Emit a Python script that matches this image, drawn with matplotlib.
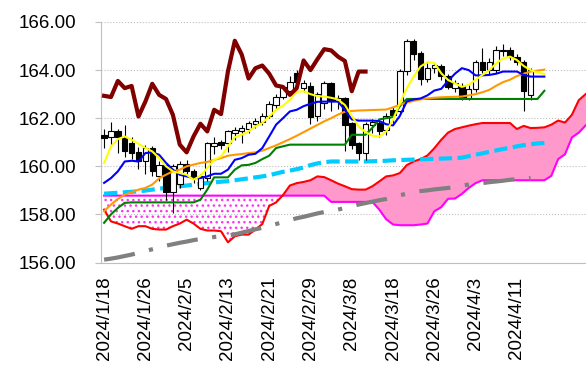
import numpy as np
import matplotlib
matplotlib.use('Agg')
import matplotlib.pyplot as plt

plt.rcParams['font.family'] = ['Liberation Sans', 'DejaVu Sans']

# Tick labels (one every 6 business days, starting at the first candle)
TICK_LABELS = ['2024/1/18', '2024/1/26', '2024/2/5', '2024/2/13', '2024/2/21', '2024/2/29',
               '2024/3/8', '2024/3/18', '2024/3/26', '2024/4/3', '2024/4/11']

# Candles: open / high / low / close
OPEN = [161.30, 161.20, 161.45, 161.20, 160.95, 160.60, 160.20, 160.75, 159.60, 160.05,
        158.95, 159.25, 160.10, 159.80, 159.10, 159.50, 160.85, 161.00, 160.95, 161.40,
        161.45, 161.55, 161.75, 161.85, 162.10, 162.55, 162.90, 163.15, 163.90, 163.25,
        163.35, 162.10, 162.65, 163.45, 162.70, 162.85, 161.80, 160.95, 160.55, 161.70,
        161.80, 161.50, 162.35, 162.30, 163.95, 165.20, 164.70, 163.65, 164.10, 164.15,
        163.75, 163.25, 163.35, 162.85, 163.20, 164.35, 164.00, 164.00, 164.80, 164.85,
        164.55, 164.35, 162.95]
HIGH = [161.55, 161.85, 161.55, 161.70, 161.20, 160.80, 160.90, 160.85, 160.20, 160.10,
        160.10, 160.20, 160.25, 159.90, 159.70, 161.00, 161.20, 161.10, 161.50, 161.65,
        161.70, 161.90, 162.00, 162.20, 162.70, 163.00, 163.40, 163.75, 164.00, 163.60,
        163.50, 163.10, 163.55, 163.50, 162.95, 162.90, 161.85, 161.00, 161.85, 161.95,
        161.90, 162.20, 162.45, 164.05, 165.30, 165.30, 164.80, 164.30, 164.35, 164.25,
        163.85, 163.60, 163.45, 163.40, 164.40, 164.90, 164.50, 165.00, 165.10, 164.95,
        164.65, 164.40, 164.10]
LOW = [160.75, 160.85, 160.55, 160.40, 160.30, 159.90, 159.70, 159.60, 159.40, 158.60,
       158.05, 159.10, 159.60, 159.30, 159.00, 159.40, 160.50, 160.70, 160.60, 161.10,
       160.95, 161.40, 161.60, 161.70, 162.00, 162.40, 162.80, 163.00, 163.40, 163.10,
       161.75, 161.90, 162.40, 162.30, 162.40, 160.65, 160.70, 160.25, 160.25, 161.40,
       161.20, 161.30, 161.80, 162.20, 163.80, 164.40, 163.40, 163.50, 163.90, 163.60,
       163.20, 163.10, 162.75, 162.75, 163.10, 163.90, 163.85, 163.90, 164.60, 164.40,
       164.20, 162.30, 162.75]
CLOSE = [161.17, 161.45, 161.20, 160.65, 160.55, 160.20, 160.75, 159.80, 160.05, 158.95,
         160.00, 160.10, 159.80, 159.50, 159.60, 160.95, 160.95, 160.90, 161.45, 161.50,
         161.60, 161.80, 161.90, 162.10, 162.60, 162.90, 163.30, 163.50, 163.50, 163.45,
         162.07, 163.00, 163.45, 162.70, 162.85, 161.70, 160.90, 160.55, 161.75, 161.85,
         161.45, 162.10, 162.15, 163.95, 165.20, 164.65, 163.65, 164.10, 164.20, 163.75,
         163.30, 163.45, 162.90, 163.20, 164.35, 164.00, 164.35, 164.85, 164.85, 164.55,
         164.35, 163.15, 164.00]

# Moving averages / ichimoku lines
MA5 = [160.14, 160.83, 161.13, 161.24, 161.10, 160.94, 160.76, 160.62, 160.34, 160.00,
       159.79, 159.72, 159.65, 159.44, 159.60, 159.93, 160.27, 160.41, 160.83, 161.21,
       161.31, 161.45, 161.66, 161.80, 162.07, 162.35, 162.52, 162.76, 163.10, 163.12,
       163.00, 162.92, 162.90, 162.85, 162.78, 162.55, 162.10, 161.66, 161.42, 161.27,
       161.24, 161.45, 161.93, 162.63, 163.25, 163.73, 164.15, 164.33, 164.30, 163.87,
       163.59, 163.45, 163.30, 163.39, 163.59, 163.80, 164.00, 164.28, 164.49, 164.56,
       164.42, 164.17, 164.00, 163.90, 163.84]
TENKAN = [159.31, 159.51, 159.79, 160.20, 160.23, 160.20, 160.55, 160.58, 160.48, 160.14,
          159.86, 159.65, 159.58, 159.51, 159.51, 159.58, 159.69, 159.69, 159.86, 160.27,
          160.34, 160.48, 160.52, 160.76, 161.24, 161.73, 162.00, 162.28, 162.35, 162.50,
          162.60, 162.68, 162.69, 162.69, 162.69, 162.35, 161.95, 161.90, 161.90, 161.90,
          161.88, 161.75, 161.70, 162.10, 162.70, 162.78, 162.82, 162.95, 163.15, 163.22,
          163.55, 163.85, 164.08, 164.00, 163.78, 163.78, 163.80, 163.85, 163.94, 163.94,
          163.94, 163.80, 163.73, 163.73, 163.73]
KIJUN = [157.65, 158.00, 158.27, 158.48, 158.50, 158.50, 158.50, 158.50, 158.50, 158.50,
         158.50, 158.50, 158.50, 158.50, 158.61, 159.03, 159.54, 159.54, 159.54, 159.86,
         160.04, 160.06, 160.14, 160.30, 160.44, 160.76, 160.83, 160.90, 160.90, 160.90,
         160.90, 160.90, 160.90, 160.90, 160.90, 160.90, 161.31, 161.31, 161.31, 161.60,
         161.95, 162.00, 162.05, 162.50, 162.80, 162.80, 162.80, 162.80, 162.80, 162.80,
         162.80, 162.80, 162.80, 162.80, 162.80, 162.80, 162.80, 162.80, 162.80, 162.80,
         162.80, 162.80, 162.80, 162.80, 163.14]
MA25 = [158.13, 158.41, 158.64, 158.82, 158.92, 159.03, 159.10, 159.24, 159.50, 159.65,
        159.79, 159.86, 160.00, 160.07, 160.14, 160.18, 160.27, 160.34, 160.44, 160.48,
        160.51, 160.55, 160.58, 160.65, 160.76, 160.87, 161.00, 161.13, 161.27, 161.42,
        161.57, 161.72, 161.87, 162.00, 162.15, 162.27, 162.30, 162.32, 162.33, 162.34,
        162.35, 162.36, 162.45, 162.56, 162.65, 162.72, 162.78, 162.82, 162.85, 162.87,
        162.88, 162.89, 162.90, 162.95, 163.00, 163.08, 163.18, 163.35, 163.50, 163.60,
        163.75, 163.85, 163.94, 163.98, 164.02]
MA75 = [158.86, 158.88, 158.90, 158.92, 158.94, 158.96, 158.99, 159.03, 159.07, 159.10,
        159.13, 159.17, 159.20, 159.24, 159.27, 159.30, 159.33, 159.36, 159.38, 159.42,
        159.46, 159.50, 159.54, 159.58, 159.63, 159.70, 159.77, 159.82, 159.88, 159.95,
        160.05, 160.12, 160.17, 160.20, 160.20, 160.20, 160.20, 160.20, 160.20, 160.21,
        160.22, 160.23, 160.25, 160.26, 160.27, 160.28, 160.29, 160.30, 160.31, 160.32,
        160.33, 160.34, 160.36, 160.42, 160.48, 160.54, 160.60, 160.66, 160.72, 160.77,
        160.83, 160.88, 160.92, 160.95, 160.97]
MA200 = [156.12, 156.16, 156.21, 156.27, 156.33, 156.40, 156.48, 156.55, 156.62, 156.70,
         156.76, 156.82, 156.87, 156.93, 156.98, 157.02, 157.06, 157.10, 157.13, 157.17,
         157.24, 157.31, 157.38, 157.44, 157.52, 157.60, 157.68, 157.76, 157.84, 157.90,
         157.97, 158.04, 158.10, 158.15, 158.20, 158.27, 158.34, 158.41, 158.47, 158.53,
         158.59, 158.64, 158.72, 158.80, 158.86, 158.92, 158.97, 159.00, 159.04, 159.07,
         159.10, 159.15, 159.20, 159.24, 159.27, 159.30, 159.34, 159.37, 159.40, 159.44,
         159.47, 159.49, 159.51]
CHIKOU = [162.93, 162.88, 163.55, 163.25, 163.34, 162.07, 162.69, 163.43, 162.97, 162.80,
          162.14, 160.90, 160.58, 161.24, 161.77, 161.45, 162.35, 162.17, 163.94, 165.22,
          164.65, 163.65, 164.08, 164.19, 163.85, 163.36, 163.30, 162.97, 163.25, 164.40,
          164.00, 164.45, 164.87, 164.82, 164.56, 164.38, 163.12, 163.94, 163.94]
SPAN_A = [158.20, 157.71, 157.62, 157.51, 157.40, 157.51, 157.51, 157.40, 157.37, 157.37,
          157.51, 157.62, 157.78, 157.62, 157.40, 157.33, 157.33, 157.30, 156.84, 157.09,
          157.16, 157.16, 157.37, 157.60, 158.35, 158.50, 158.80, 159.20, 159.30, 159.35,
          159.42, 159.58, 159.55, 159.42, 159.28, 159.17, 159.05, 159.03, 159.03, 159.17,
          159.37, 159.58, 159.62, 159.72, 160.05, 160.20, 160.30, 160.45, 160.75, 161.10,
          161.40, 161.55, 161.62, 161.69, 161.75, 161.80, 161.80, 161.80, 161.80, 161.80,
          161.55, 161.68, 161.59, 161.60, 161.62, 161.73, 161.90, 161.82, 162.14, 162.75,
          163.00]
SPAN_B = [158.78, 158.78, 158.78, 158.78, 158.78, 158.78, 158.78, 158.78, 158.78, 158.78,
          158.78, 158.78, 158.78, 158.78, 158.78, 158.78, 158.78, 158.78, 158.78, 158.78,
          158.78, 158.78, 158.78, 158.78, 158.78, 158.78, 158.78, 158.78, 158.78, 158.78,
          158.78, 158.78, 158.78, 158.52, 158.52, 158.52, 158.52, 158.52, 158.52, 158.52,
          158.20, 157.80, 157.58, 157.55, 157.55, 157.55, 157.58, 157.62, 158.13, 158.30,
          158.65, 158.66, 158.85, 159.10, 159.30, 159.42, 159.42, 159.42, 159.42, 159.42,
          159.42, 159.42, 159.42, 159.42, 159.42, 159.60, 160.30, 160.50, 161.20, 161.40,
          161.70]

W, H = 586, 373
fig = plt.figure(figsize=(W / 100, H / 100), dpi=100)
ax = fig.add_axes([101 / W, 1 - 262.5 / H, 1 - 101 / W, (262.5 - 22) / H])

# ---- cloud ----
xs = np.arange(len(SPAN_A))
a = np.array(SPAN_A)
b = np.array(SPAN_B)
ax.fill_between(xs, a, b, where=a >= b, interpolate=True, color='#FF99CC', lw=0, zorder=1)
ax.fill_between(xs, a, b, where=a < b, interpolate=True, facecolor='none',
                edgecolor='#FF33EE', hatch='...', lw=0, zorder=1)
ax.plot(xs, b, color='#FF00FF', lw=1.5, zorder=2)
ax.plot(xs, a, color='#FF0000', lw=1.5, zorder=2)

# ---- long MAs ----
ax.plot(np.arange(len(MA200)), MA200, color='#808080', lw=3, dashes=(7.5, 3.5, 1, 3.5), zorder=3)
ax.plot(np.arange(len(MA75)), MA75, color='#00CCFF', lw=3, dashes=(3.2, 1.3), zorder=3)

# ---- candles ----
o = np.array(OPEN)
c = np.array(CLOSE)
cx = np.arange(len(OPEN))
ax.vlines(cx, LOW, HIGH, color='black', lw=0.8, zorder=4)
up = c >= o
body = np.maximum(np.abs(c - o), 0.03)
ax.bar(cx[up], body[up], bottom=o[up], width=0.8, color='white', edgecolor='black', lw=0.8, zorder=5)
ax.bar(cx[~up], body[~up], bottom=c[~up], width=0.8, color='black', edgecolor='black', lw=0.8, zorder=5)

# ---- short lines ----
ax.plot(np.arange(len(KIJUN)), KIJUN, color='#008000', lw=1.5, zorder=6)
ax.plot(np.arange(len(MA25)), MA25, color='#FF9900', lw=1.5, zorder=6)
ax.plot(np.arange(len(TENKAN)), TENKAN, color='#0000FF', lw=1.5, zorder=6)
ax.plot(np.arange(len(MA5)), MA5, color='#FFFF00', lw=1.5, zorder=7)
ax.plot(np.arange(len(CHIKOU)), CHIKOU, color='#800000', lw=3, zorder=8)

# ---- axes ----
ax.set_xlim(-0.45, 70.05)
ax.set_ylim(156, 166)
ax.set_yticks(np.arange(156, 166.1, 2))
ax.set_yticklabels(['%.2f' % v for v in np.arange(156, 166.1, 2)], fontsize=13.5)
ax.set_xticks(np.arange(0, 61, 6))
ax.set_xticklabels(TICK_LABELS, rotation=90, fontsize=13.5)
ax.tick_params(axis='x', length=0, pad=10)
ax.tick_params(axis='y', length=4, color='#BFBFBF', pad=14)
ax.grid(axis='y', color='#BFBFBF', ls=':', lw=0.8)
ax.set_axisbelow(True)
for s in ['top', 'right']:
    ax.spines[s].set_visible(False)
for s in ['left', 'bottom']:
    ax.spines[s].set_color('#BFBFBF')

fig.savefig('out.png', dpi=100)
